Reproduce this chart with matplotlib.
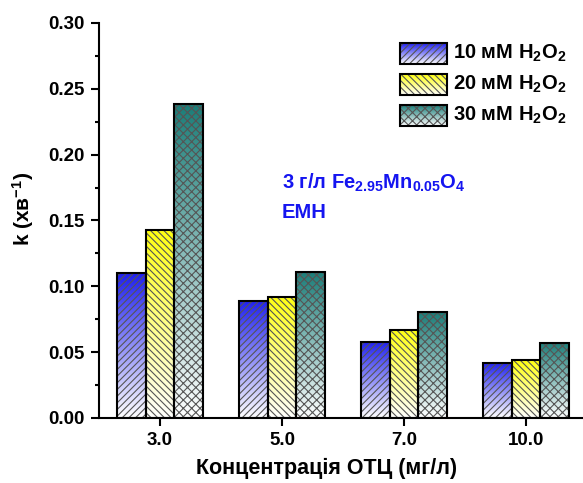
import matplotlib.pyplot as plt
import numpy as np
from matplotlib.patches import Rectangle
from matplotlib.colors import to_rgb

plt.rcParams['font.family'] = ['Liberation Sans', 'DejaVu Sans']
plt.rcParams['font.weight'] = 'bold'
plt.rcParams['mathtext.fontset'] = 'custom'
plt.rcParams['mathtext.rm'] = 'Liberation Sans:bold'
plt.rcParams['mathtext.it'] = 'Liberation Sans:bold'
plt.rcParams['mathtext.bf'] = 'Liberation Sans:bold'
plt.rcParams['hatch.linewidth'] = 0.8

categories = ['3.0', '5.0', '7.0', '10.0']
k_10mM = [0.110, 0.089, 0.058, 0.042]
k_20mM = [0.143, 0.092, 0.067, 0.044]
k_30mM = [0.2385, 0.111, 0.0805, 0.057]
series = [k_10mM, k_20mM, k_30mM]
labels = ['10 мМ H$_2$O$_2$', '20 мМ H$_2$O$_2$', '30 мМ H$_2$O$_2$']
colors = ['#1f1ff0', '#ffff10', '#1a7d78']
hatches = ['/////', '\\\\\\\\\\', 'xxxx']


def gradient(color):
    r, g, b = to_rgb(color)
    t = np.linspace(0, 1, 256)[:, None]  # 0 bottom (white) -> 1 top (colour)
    img = np.zeros((256, 1, 3))
    img[..., 0] = 1 - t * (1 - r)
    img[..., 1] = 1 - t * (1 - g)
    img[..., 2] = 1 - t * (1 - b)
    return img


fig = plt.figure(figsize=(5.83, 4.83), dpi=100)
ax = fig.add_axes([0.1698, 0.1346, 0.8302, 0.8178])

x = np.arange(len(categories))
w = 0.235
for j, vals in enumerate(series):
    pos = x + (j - 1) * w
    bars = ax.bar(pos, vals, w, color='none', edgecolor='none', zorder=2)
    for b in bars:
        im = ax.imshow(gradient(colors[j]), origin='lower', aspect='auto',
                       extent=[b.get_x(), b.get_x() + w, 0, b.get_height()],
                       zorder=1, interpolation='bilinear')
        im.set_clip_path(b)
    ax.bar(pos, vals, w, color='none', edgecolor='#555555', hatch=hatches[j],
           linewidth=0, zorder=3)
    ax.bar(pos, vals, w, color='none', edgecolor='black', linewidth=1.5, zorder=4)

ax.set_xlim(-0.5, 3.467)
ax.set_ylim(0, 0.30)
ax.set_xticks(x)
ax.set_xticklabels(categories)
ax.set_yticks(np.arange(0, 0.301, 0.05))
ax.set_yticks(np.arange(0.025, 0.30, 0.05), minor=True)
ax.yaxis.set_major_formatter(plt.FormatStrFormatter('%.2f'))
ax.tick_params(axis='both', which='major', direction='out', length=6, width=1.5,
               labelsize=13.5, pad=4)
ax.tick_params(axis='y', which='minor', direction='out', length=3, width=1.5)
for s in ['top', 'right']:
    ax.spines[s].set_visible(False)
for s in ['left', 'bottom']:
    ax.spines[s].set_linewidth(1.5)

ax.set_ylabel('k (хв$^{-1}$)', fontsize=15, fontweight='bold')
ax.yaxis.set_label_coords(-0.13, 0.53)
ax.set_xlabel('Концентрація ОТЦ (мг/л)', fontsize=15.5, fontweight='bold')
ax.xaxis.set_label_coords(0.47, -0.10)

# legend drawn by hand so the swatches keep the gradient
ly = [0.896, 0.818, 0.740]
for j in range(3):
    x0, x1 = 0.622, 0.719
    y0, y1 = ly[j], ly[j] + 0.053
    rect = Rectangle((x0, y0), x1 - x0, y1 - y0, transform=ax.transAxes,
                     facecolor='none', edgecolor='none')
    ax.add_patch(rect)
    im = ax.imshow(gradient(colors[j]), origin='lower', aspect='auto',
                   extent=[x0, x1, y0, y1], transform=ax.transAxes,
                   interpolation='bilinear', zorder=5)
    im.set_clip_path(rect)
    ax.add_patch(Rectangle((x0, y0), x1 - x0, y1 - y0, transform=ax.transAxes,
                           facecolor='none', edgecolor='#555555', hatch=hatches[j],
                           linewidth=0, zorder=6))
    ax.add_patch(Rectangle((x0, y0), x1 - x0, y1 - y0, transform=ax.transAxes,
                           facecolor='none', edgecolor='black', linewidth=1.5, zorder=7))
    ax.text(0.731, (y0 + y1) / 2, labels[j], transform=ax.transAxes,
            fontsize=14.5, fontweight='bold', va='center', ha='left')

ax.set_xlim(-0.5, 3.467)
ax.set_ylim(0, 0.30)

ax.text(0.378, 0.595, '3 г/л Fe$_{2.95}$Mn$_{0.05}$O$_4$', transform=ax.transAxes,
        color='#1515f0', fontsize=14.5, fontweight='bold', va='center')
ax.text(0.378, 0.52, 'ЕМН', transform=ax.transAxes,
        color='#1515f0', fontsize=14.5, fontweight='bold', va='center')

fig.savefig('out.png', dpi=100)
